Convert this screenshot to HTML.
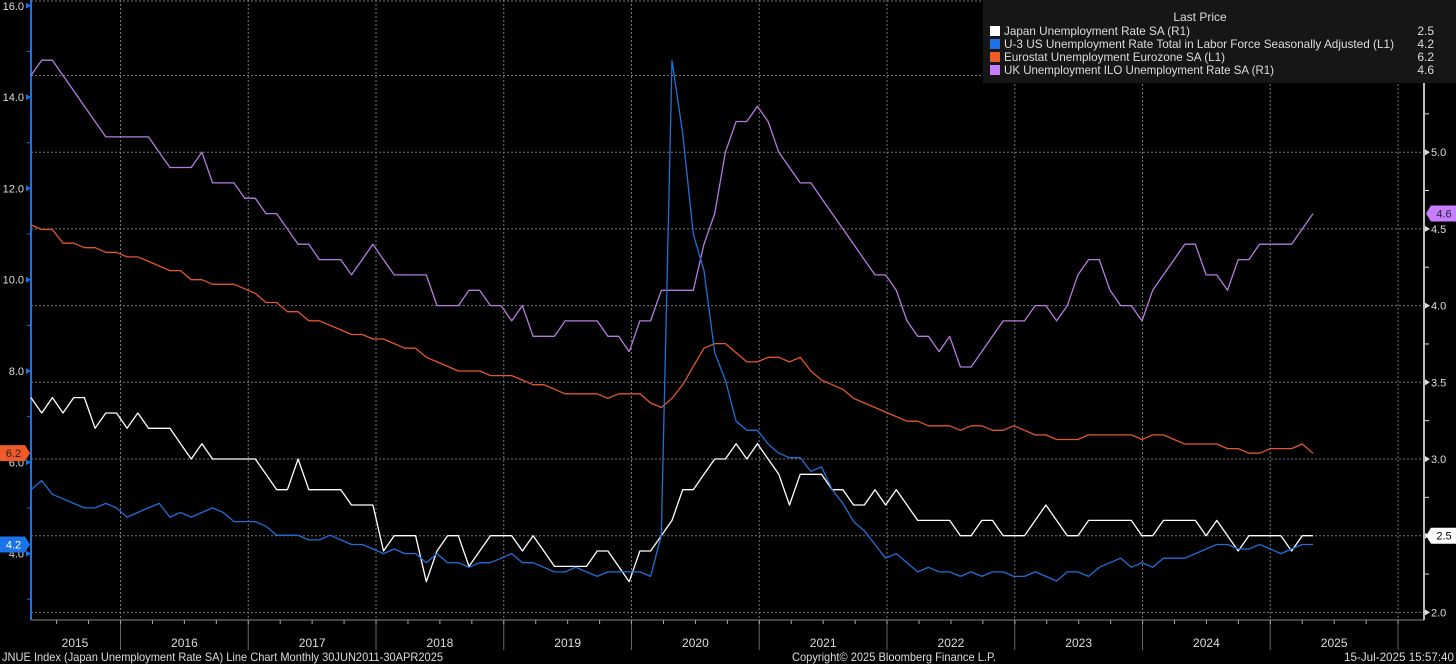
<!DOCTYPE html>
<html><head><meta charset="utf-8">
<style>
html,body{margin:0;padding:0;background:#000;}
svg{display:block;font-family:"Liberation Sans",sans-serif;}
</style></head>
<body>
<svg id="chart" width="1456" height="664" viewBox="0 0 1456 664" xmlns="http://www.w3.org/2000/svg">
<rect x="0" y="0" width="1456" height="664" fill="#000"/>
<g id="grid"></g>
<g id="axes"></g>
<g id="series"></g>
<g id="tags"></g>
<g>
  <rect x="983" y="0" width="473" height="83" fill="#161616"/>
  <text x="1200" y="21" fill="#ddd" font-size="12" text-anchor="middle">Last Price</text>
  <g><rect x="990" y="26" width="10" height="10" fill="#fff"/><text x="1004" y="35" fill="#ddd" font-size="12" textLength="186" lengthAdjust="spacingAndGlyphs">Japan Unemployment Rate SA  (R1)</text><text x="1434" y="35" fill="#ddd" font-size="12" text-anchor="end">2.5</text></g>
  <g><rect x="990" y="39" width="10" height="10" fill="#1a73e8"/><text x="1004" y="48" fill="#ddd" font-size="12" textLength="390" lengthAdjust="spacingAndGlyphs">U-3 US Unemployment Rate Total in Labor Force Seasonally Adjusted  (L1)</text><text x="1434" y="48" fill="#ddd" font-size="12" text-anchor="end">4.2</text></g>
  <g><rect x="990" y="52" width="10" height="10" fill="#f05a28"/><text x="1004" y="61" fill="#ddd" font-size="12" textLength="221" lengthAdjust="spacingAndGlyphs">Eurostat Unemployment Eurozone SA  (L1)</text><text x="1434" y="61" fill="#ddd" font-size="12" text-anchor="end">6.2</text></g>
  <g><rect x="990" y="65" width="10" height="10" fill="#c77dff"/><text x="1004" y="74" fill="#ddd" font-size="12" textLength="270" lengthAdjust="spacingAndGlyphs">UK Unemployment ILO Unemployment Rate SA  (R1)</text><text x="1434" y="74" fill="#ddd" font-size="12" text-anchor="end">4.6</text></g>
</g>
<text x="2" y="661" fill="#ddd" font-size="12" textLength="441" lengthAdjust="spacingAndGlyphs">JNUE Index (Japan Unemployment Rate SA) Line Chart  Monthly 30JUN2011-30APR2025</text>
<text x="792" y="661" fill="#ddd" font-size="12" textLength="204" lengthAdjust="spacingAndGlyphs">Copyright© 2025 Bloomberg Finance L.P.</text>
<text x="1454" y="661" fill="#ddd" font-size="12" text-anchor="end" textLength="110" lengthAdjust="spacingAndGlyphs">15-Jul-2025 15:57:40</text>
</svg>
<script>
const japan = [3.4,3.3,3.4,3.3,3.4,3.4,3.2,3.3,3.3,3.2,3.3,3.2,3.2,3.2,3.1,3.0,3.1,3.0,3.0,3.0,3.0,3.0,2.9,2.8,2.8,3.0,2.8,2.8,2.8,2.8,2.7,2.7,2.7,2.4,2.5,2.5,2.5,2.2,2.4,2.5,2.5,2.3,2.4,2.5,2.5,2.5,2.4,2.5,2.4,2.3,2.3,2.3,2.3,2.4,2.4,2.3,2.2,2.4,2.4,2.5,2.6,2.8,2.8,2.9,3.0,3.0,3.1,3.0,3.1,3.0,2.9,2.7,2.9,2.9,2.9,2.8,2.8,2.7,2.7,2.8,2.7,2.8,2.7,2.6,2.6,2.6,2.6,2.5,2.5,2.6,2.6,2.5,2.5,2.5,2.6,2.7,2.6,2.5,2.5,2.6,2.6,2.6,2.6,2.6,2.5,2.5,2.6,2.6,2.6,2.6,2.5,2.6,2.5,2.4,2.5,2.5,2.5,2.5,2.4,2.5,2.5];
const us = [5.4,5.6,5.3,5.2,5.1,5.0,5.0,5.1,5.0,4.8,4.9,5.0,5.1,4.8,4.9,4.8,4.9,5.0,4.9,4.7,4.7,4.7,4.6,4.4,4.4,4.4,4.3,4.3,4.4,4.3,4.2,4.2,4.1,4.0,4.1,4.0,4.0,3.8,4.0,3.8,3.8,3.7,3.8,3.8,3.9,4.0,3.8,3.8,3.7,3.6,3.6,3.7,3.6,3.5,3.6,3.6,3.6,3.6,3.5,4.4,14.8,13.2,11.0,10.2,8.4,7.8,6.9,6.7,6.7,6.4,6.2,6.1,6.1,5.8,5.9,5.4,5.1,4.7,4.5,4.2,3.9,4.0,3.8,3.6,3.7,3.6,3.6,3.5,3.6,3.5,3.6,3.6,3.5,3.5,3.6,3.5,3.4,3.6,3.6,3.5,3.7,3.8,3.9,3.7,3.8,3.7,3.9,3.9,3.9,4.0,4.1,4.2,4.2,4.1,4.1,4.2,4.1,4.0,4.1,4.2,4.2];
const euro = [11.2,11.1,11.1,10.8,10.8,10.7,10.7,10.6,10.6,10.5,10.5,10.4,10.3,10.2,10.2,10.0,10.0,9.9,9.9,9.9,9.8,9.7,9.5,9.5,9.3,9.3,9.1,9.1,9.0,8.9,8.8,8.8,8.7,8.7,8.6,8.5,8.5,8.3,8.2,8.1,8.0,8.0,8.0,7.9,7.9,7.9,7.8,7.7,7.7,7.6,7.5,7.5,7.5,7.5,7.4,7.5,7.5,7.5,7.3,7.2,7.4,7.7,8.1,8.5,8.6,8.6,8.4,8.2,8.2,8.3,8.3,8.2,8.3,8.0,7.8,7.7,7.6,7.4,7.3,7.2,7.1,7.0,6.9,6.9,6.8,6.8,6.8,6.7,6.8,6.8,6.7,6.7,6.8,6.7,6.6,6.6,6.5,6.5,6.5,6.6,6.6,6.6,6.6,6.6,6.5,6.6,6.6,6.5,6.4,6.4,6.4,6.4,6.3,6.3,6.2,6.2,6.3,6.3,6.3,6.4,6.2];
const uk = [5.5,5.6,5.6,5.5,5.4,5.3,5.2,5.1,5.1,5.1,5.1,5.1,5.0,4.9,4.9,4.9,5.0,4.8,4.8,4.8,4.7,4.7,4.6,4.6,4.5,4.4,4.4,4.3,4.3,4.3,4.2,4.3,4.4,4.3,4.2,4.2,4.2,4.2,4.0,4.0,4.0,4.1,4.1,4.0,4.0,3.9,4.0,3.8,3.8,3.8,3.9,3.9,3.9,3.9,3.8,3.8,3.7,3.9,3.9,4.1,4.1,4.1,4.1,4.4,4.6,5.0,5.2,5.2,5.3,5.2,5.0,4.9,4.8,4.8,4.7,4.6,4.5,4.4,4.3,4.2,4.2,4.1,3.9,3.8,3.8,3.7,3.8,3.6,3.6,3.7,3.8,3.9,3.9,3.9,4.0,4.0,3.9,4.0,4.2,4.3,4.3,4.1,4.0,4.0,3.9,4.1,4.2,4.3,4.4,4.4,4.2,4.2,4.1,4.3,4.3,4.4,4.4,4.4,4.4,4.5,4.6];
const years = ["2015","2016","2017","2018","2019","2020","2021","2022","2023","2024","2025"];
const leftTicks = ["16.0","14.0","12.0","10.0","8.0","6.0","4.0"];
const rightTicks = ["5.5","5.0","4.5","4.0","3.5","3.0","2.5","2.0"];

const NS = "http://www.w3.org/2000/svg";
function xOf(i){ return 31 + i * 10.683; }
function yL(v){ return 371 + (8 - v) * 45.65; }
function yR(v){ return 459 + (3 - v) * 153.4; }
function mk(tag, attrs, parent){ const e=document.createElementNS(NS,tag); for(const k in attrs) e.setAttribute(k,attrs[k]); parent.appendChild(e); return e; }
const grid=document.getElementById('grid'), axes=document.getElementById('axes'), ser=document.getElementById('series'), tags=document.getElementById('tags');

rightTicks.forEach(t=>{
  const y=yR(parseFloat(t));
  const l=mk('line',{x1:31,x2:1424,y1:y,y2:y,stroke:'#777','stroke-width':1,'stroke-dasharray':'2,2'},grid);
  
  
});
{ const l=mk('line',{x1:31,x2:1424,y1:1,y2:1,stroke:'#777','stroke-width':1,'stroke-dasharray':'2,2'},grid);
  
   }
for(let k=0;k<=10;k++){
  const x=120.5+127.75*k;
  const g=mk('line',{x1:x,x2:x,y1:0,y2:620,stroke:'#777','stroke-width':1,'stroke-dasharray':'2,2'},grid);
  
  
  const s=mk('line',{x1:x,x2:x,y1:620,y2:650,stroke:'#666','stroke-width':1},axes);
  
  
}
for(let q=-3;q<=44;q++){
  const x=120.5+31.94*q; if(x<31||x>1424) continue;
  mk('line',{x1:x,x2:x,y1:620,y2:624,stroke:'#aaa','stroke-width':1},axes);
}
years.forEach((yr,k)=>{
  const x=k===0?75:120.5+127.75*(k-1)+63.9;
  const t=mk('text',{x:x,y:647,fill:'#ddd','font-size':12,'text-anchor':'middle'},axes);
  t.textContent=yr;
  
  
});
mk('line',{x1:31,x2:1424,y1:620,y2:620,stroke:'#888','stroke-width':1},axes);
{ const a=mk('line',{x1:31,x2:31,y1:0,y2:620,stroke:'#1a73e8','stroke-width':2},axes);
  
   }
for(let v=3; v<=16; v++){
  const y=yL(v);
  if(v%2===0) mk('path',{d:`M26 ${y-3} L31 ${y} L26 ${y+3} Z`,fill:'#1a73e8'},axes);
  else mk('line',{x1:27,x2:31,y1:y,y2:y,stroke:'#1a73e8','stroke-width':1},axes);
}
leftTicks.forEach(t=>{
  const tx=mk('text',{x:24,y:yL(parseFloat(t))+4,fill:'#ddd','font-size':11,'text-anchor':'end'},axes);
  tx.textContent=t;
  
  
});
{ const a=mk('line',{x1:1424,x2:1424,y1:0,y2:620,stroke:'#bbb','stroke-width':2},axes);
  
   }
for(let k=0;k<=16;k++){
  const v=2+k*0.25, y=yR(v);
  if(k%2===0) mk('path',{d:`M1425 ${y-3} L1430 ${y} L1425 ${y+3} Z`,fill:'#ddd'},axes);
  else mk('line',{x1:1425,x2:1429,y1:y,y2:y,stroke:'#ddd','stroke-width':1},axes);
}
rightTicks.forEach(t=>{
  const tx=mk('text',{x:1431,y:yR(parseFloat(t))+4,fill:'#ddd','font-size':11},axes);
  tx.textContent=t;
  
  
});
function line(data, yf, color, name){
  const d=data.map((v,i)=>(i?'L':'M')+xOf(i).toFixed(1)+' '+yf(v).toFixed(1)).join(' ');
  const p=mk('path',{d:d,fill:'none',stroke:color,'stroke-width':1.3,'stroke-linejoin':'round'},ser);
  
  
}
line(euro,yL,'#e0572a','eurozone-line');
line(uk,yR,'#b57be0','uk-line');
line(japan,yR,'#ffffff','japan-line');
line(us,yL,'#1f6fd8','us-line');
function tag(x,y,w,text,fill,tc,left,name){
  const d=left?`M${x} ${y-8} L${x+w} ${y-8} L${x+w+5} ${y} L${x+w} ${y+8} L${x} ${y+8} Z`
              :`M${x+5} ${y-8} L${x+w} ${y-8} L${x+w} ${y+8} L${x+5} ${y+8} L${x} ${y} Z`;
  const g=mk('g',{},tags);
  
  
  mk('path',{d:d,fill:fill},g);
  const t=mk('text',{x:left?x+w/2+1:x+w/2+3,y:y+4,fill:tc,'font-size':11,'text-anchor':'middle'},g);
  t.textContent=text;
}
tag(0,yL(euro[euro.length-1]),25,euro[euro.length-1].toFixed(1),'#f05a28','#222',true,'eurozone-last-tag');
tag(0,yL(us[us.length-1]),25,us[us.length-1].toFixed(1),'#1a73e8','#fff',true,'us-last-tag');
tag(1426,yR(uk[uk.length-1]),30,uk[uk.length-1].toFixed(1),'#c77dff','#222',false,'uk-last-tag');
tag(1426,yR(japan[japan.length-1]),30,japan[japan.length-1].toFixed(1),'#ffffff','#000',false,'japan-last-tag');
</script>
</body></html>
